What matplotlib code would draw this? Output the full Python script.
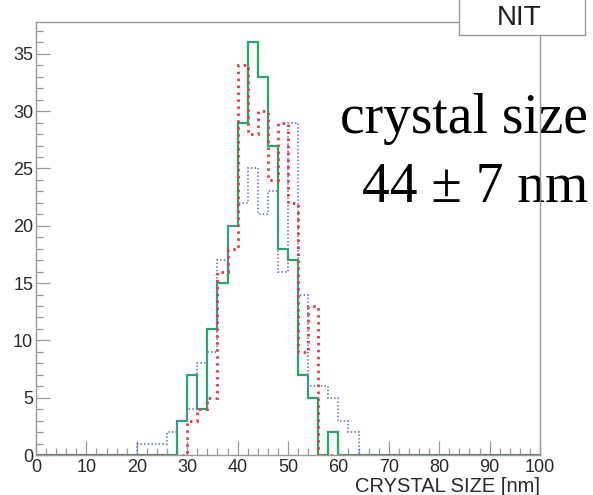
import numpy as np
import matplotlib.pyplot as plt
from matplotlib.patches import Rectangle

# histogram counts, 2 nm bins starting at 20 nm (bins 20-22 ... 62-64)
first_bin = 20
bin_width = 2
green_counts = [0, 0, 0, 0, 3, 7, 4, 11, 15, 20, 29, 36, 33, 27, 18, 17, 7, 5, 0, 2, 0, 0]
red_counts = [0, 0, 0, 0, 0, 3, 4, 5, 16, 18, 34, 28, 30, 24, 29, 22, 9, 13, 0, 0, 0, 0]
blue_counts = [1, 1, 1, 2, 3, 4, 8, 9, 17, 20, 22, 25, 21, 23, 16, 29, 14, 6, 6, 5, 3, 2]

x_ticks = [0, 10, 20, 30, 40, 50, 60, 70, 80, 90, 100]
y_ticks = [0, 5, 10, 15, 20, 25, 30, 35]

W, H = 593, 495
fig = plt.figure(figsize=(W / 100, H / 100), dpi=100)
ax = fig.add_axes([36 / W, 40 / H, 504 / W, 433.3 / H])

edges = np.arange(0, 100 + bin_width, bin_width)


def full(counts):
    v = np.zeros(len(edges) - 1)
    i0 = first_bin // bin_width
    v[i0:i0 + len(counts)] = counts
    return v


ax.stairs(full(green_counts), edges, color="#25a86c", linewidth=1.6, zorder=3)
ax.stairs(full(blue_counts), edges, color="#6f7fc4", linewidth=1.3,
          linestyle=(0, (0.8, 1.2)), zorder=4)
ax.stairs(full(red_counts), edges, color="#e83a44", linewidth=2.0,
          linestyle=(0, (0.9, 1.6)), zorder=5)

ax.set_xlim(0, 100)
ax.set_ylim(0, 37.8)
ax.set_xticks(x_ticks)
ax.set_yticks(y_ticks)
ax.set_xticks(np.arange(0, 101, 2), minor=True)
ax.set_yticks(np.arange(0, 38, 1), minor=True)

gray = "#9a9a9a"
ax.tick_params(which="both", direction="in", color=gray, width=0.9,
               top=False, right=False, labelcolor="#2a2a2a", labelsize=13)
ax.tick_params(which="major", length=10)
ax.tick_params(which="minor", length=5)
ax.tick_params(axis="x", pad=3)
ax.tick_params(axis="y", pad=2)
for lab in ax.get_xticklabels() + ax.get_yticklabels():
    lab.set_fontfamily("Liberation Sans")
for s in ax.spines.values():
    s.set_color(gray)
    s.set_linewidth(1.0)
    s.set_zorder(10)

ax.text(540 / W, 1 - 487 / H, "CRYSTAL SIZE [nm]", ha="right", va="center",
        fontsize=14.5, color="#2a2a2a", family="Liberation Sans",
        transform=fig.transFigure, clip_on=False)

# annotation text, drawn under the frame lines like in the original
ax.text(588 / W, 1 - 133 / H, "crystal size", ha="right", va="baseline",
        fontsize=40, family="Liberation Serif", color="black", zorder=1,
        transform=fig.transFigure, clip_on=False)
ax.text(588 / W, 1 - 202 / H, "44 \u00b1 7 nm", ha="right", va="baseline",
        fontsize=40, family="Liberation Serif", color="black", zorder=1,
        transform=fig.transFigure, clip_on=False)

# NIT label box
fig.patches.append(Rectangle((459 / W, 1 - 35 / H), 126 / W, 40 / H,
                             transform=fig.transFigure, facecolor="white",
                             edgecolor=gray, linewidth=1.0, zorder=20))
fig.text(519 / W, 1 - 18 / H, "NIT", ha="center", va="center", fontsize=20,
         color="#1e1e1e", family="Liberation Sans", zorder=21)

fig.savefig("out.png", dpi=100)
